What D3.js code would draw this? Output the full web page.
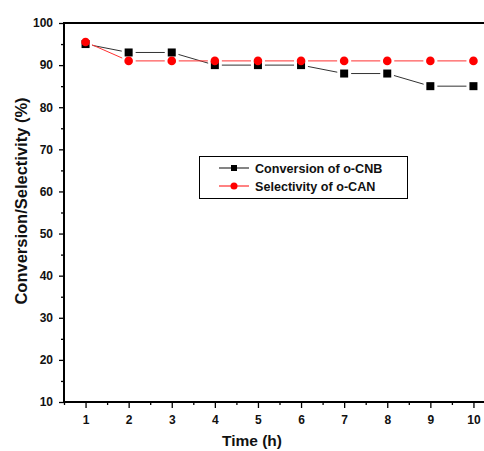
<!DOCTYPE html>
<html>
<head>
<meta charset="utf-8">
<script src="https://cdn.jsdelivr.net/npm/d3@7"></script>
<style>
  html, body { margin: 0; padding: 0; background: #fff; }
  svg { display: block; font-family: Arial, "Liberation Sans", sans-serif; }
</style>
</head>
<body>
<svg id="chart" width="484" height="451"></svg>
<script>
// Reaction time (h)
const hours = [1, 2, 3, 4, 5, 6, 7, 8, 9, 10];
// Conversion of o-CNB (%)
const conversion = [95, 93, 93, 90, 90, 90, 88, 88, 85, 85];
// Selectivity of o-CAN (%)
const selectivity = [95.5, 91, 91, 91, 91, 91, 91, 91, 91, 91];
const seriesNames = ["Conversion of o-CNB", "Selectivity of o-CAN"];
const xTicks = [1, 2, 3, 4, 5, 6, 7, 8, 9, 10];
const yTicks = [10, 20, 30, 40, 50, 60, 70, 80, 90, 100];

const svg = d3.select("#chart");
const plotLeft = 64, plotTop = 23, plotBottom = 402, plotRight = 495;

const x = d3.scaleLinear().domain([0.5, 10.5]).range([plotLeft, plotRight]);
const y = d3.scaleLinear().domain([10, 100]).range([plotBottom, plotTop]);

// Frame: top border
svg.append("line")
  .attr("x1", plotLeft).attr("x2", plotRight)
  .attr("y1", plotTop).attr("y2", plotTop)
  .attr("stroke", "#000").attr("stroke-width", 2);

// Y axis
const yAxis = svg.append("g").attr("transform", `translate(${plotLeft},0)`)
  .call(d3.axisLeft(y).tickValues(yTicks).tickSize(5).tickPadding(6).tickFormat(d3.format("d")));
yAxis.select(".domain").remove();
yAxis.selectAll(".tick line").attr("stroke-width", 1.3);
yAxis.selectAll("text").attr("font-size", 12).attr("font-weight", "bold").attr("fill", "#111");
svg.append("g").attr("transform", `translate(${plotLeft},0)`)
  .call(d3.axisLeft(y).tickValues(d3.range(15, 100, 10)).tickSize(3).tickFormat(""))
  .call(g => g.select(".domain").remove())
  .selectAll(".tick line").attr("stroke-width", 1.3);

// X axis
const xAxis = svg.append("g").attr("transform", `translate(0,${plotBottom})`)
  .call(d3.axisBottom(x).tickValues(xTicks).tickSize(6).tickPadding(7).tickFormat(d3.format("d")));
xAxis.select(".domain").remove();
xAxis.selectAll(".tick line").attr("stroke-width", 1.3);
xAxis.selectAll("text").attr("font-size", 12).attr("font-weight", "bold").attr("fill", "#111");
svg.append("g").attr("transform", `translate(0,${plotBottom})`)
  .call(d3.axisBottom(x).tickValues(d3.range(0.5, 10.6, 1)).tickSize(3).tickFormat(""))
  .call(g => g.select(".domain").remove())
  .selectAll(".tick line").attr("stroke-width", 1.3);

// Axis lines
svg.append("line").attr("x1", plotLeft).attr("x2", plotLeft).attr("y1", plotTop - 1).attr("y2", plotBottom + 1)
  .attr("stroke", "#000").attr("stroke-width", 2);
svg.append("line").attr("x1", plotLeft - 1).attr("x2", plotRight).attr("y1", plotBottom).attr("y2", plotBottom)
  .attr("stroke", "#000").attr("stroke-width", 2);

// Axis titles
svg.append("text")
  .attr("x", 252).attr("y", 446)
  .attr("text-anchor", "middle")
  .attr("font-size", 15.5).attr("font-weight", "bold").attr("fill", "#111")
  .text("Time (h)");
svg.append("text")
  .attr("transform", `translate(27,201) rotate(-90)`)
  .attr("text-anchor", "middle")
  .attr("font-size", 16.5).attr("font-weight", "bold").attr("fill", "#111")
  .text("Conversion/Selectivity (%)");

// Connecting segments, with small gaps around each marker
function gappedSegments(values, color, gap) {
  const g = svg.append("g");
  for (let i = 0; i < values.length - 1; i++) {
    const x1 = x(hours[i]), y1 = y(values[i]);
    const x2 = x(hours[i + 1]), y2 = y(values[i + 1]);
    const len = Math.hypot(x2 - x1, y2 - y1);
    const ux = (x2 - x1) / len, uy = (y2 - y1) / len;
    g.append("line")
      .attr("x1", x1 + ux * gap).attr("y1", y1 + uy * gap)
      .attr("x2", x2 - ux * gap).attr("y2", y2 - uy * gap)
      .attr("stroke", color).attr("stroke-width", 1);
  }
}
gappedSegments(conversion, "#333", 7);
gappedSegments(selectivity, "#ff3030", 7);

// Markers
svg.append("g").selectAll("rect").data(conversion).join("rect")
  .attr("x", (d, i) => x(hours[i]) - 4)
  .attr("y", d => y(d) - 4)
  .attr("width", 8).attr("height", 8)
  .attr("fill", "#000");
svg.append("g").selectAll("circle").data(selectivity).join("circle")
  .attr("cx", (d, i) => x(hours[i]))
  .attr("cy", d => y(d))
  .attr("r", 4.3)
  .attr("fill", "#ff0000");

// Legend
const lg = svg.append("g");
lg.append("rect").attr("x", 199.5).attr("y", 156.5).attr("width", 208).attr("height", 42)
  .attr("fill", "#fff").attr("stroke", "#000").attr("stroke-width", 1);
const legendRows = [
  { name: seriesNames[0], color: "#333", marker: "square", yy: 168 },
  { name: seriesNames[1], color: "#ff3030", marker: "circle", yy: 186 }
];
legendRows.forEach(r => {
  lg.append("line").attr("x1", 219).attr("x2", 249).attr("y1", r.yy).attr("y2", r.yy)
    .attr("stroke", r.color).attr("stroke-width", 1.2);
  if (r.marker === "square") {
    lg.append("rect").attr("x", 231).attr("y", r.yy - 3).attr("width", 6).attr("height", 6).attr("fill", "#000");
  } else {
    lg.append("circle").attr("cx", 234).attr("cy", r.yy).attr("r", 3.5).attr("fill", "#ff0000");
  }
  lg.append("text").attr("x", 255).attr("y", r.yy + 4.5)
    .attr("font-size", 12.6).attr("font-weight", "bold").attr("fill", "#111")
    .text(r.name);
});
</script>
</body>
</html>
